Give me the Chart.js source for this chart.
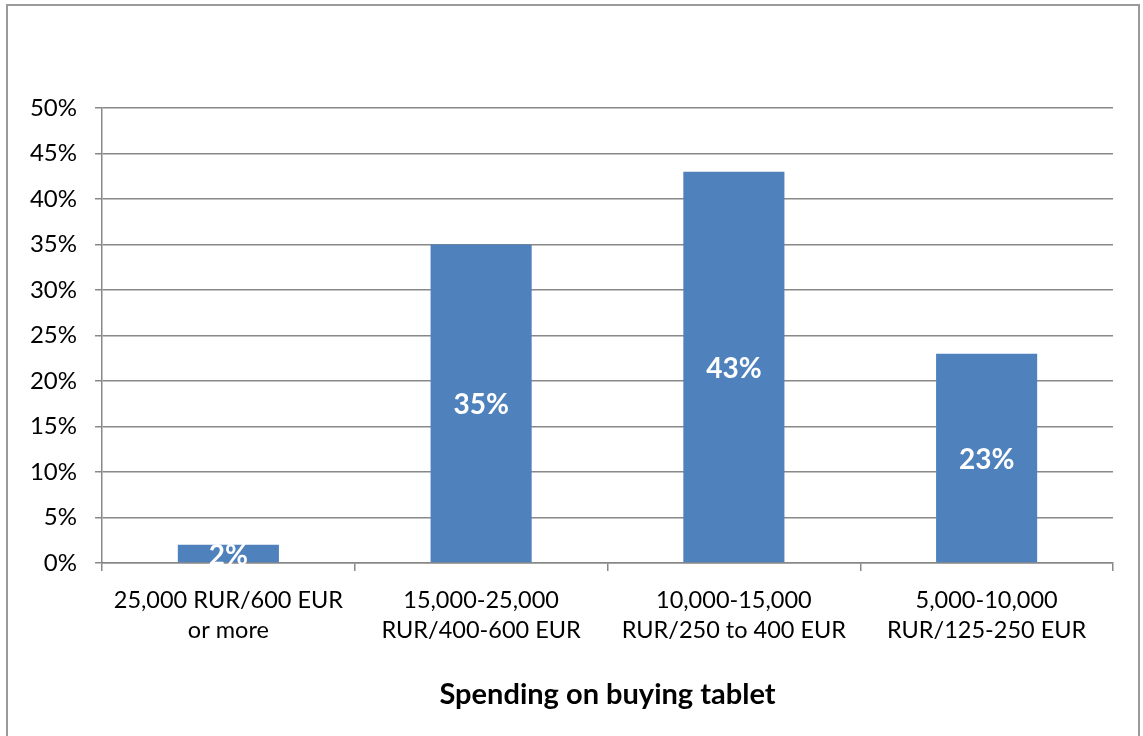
<!DOCTYPE html>
<html>
<head>
<meta charset="utf-8">
<script src="https://cdn.jsdelivr.net/npm/chart.js@4/dist/chart.umd.min.js"></script>
<style>
  html, body { margin: 0; padding: 0; background: #fff; }
  #wrap { position: relative; width: 1143px; height: 736px; overflow: hidden; }
  #frame { position: absolute; left: 6px; top: 4px; width: 1134px; height: 760px;
           border: 2px solid #9a9a9a; box-sizing: border-box; pointer-events: none; }
  canvas { position: absolute; left: 0; top: 0; }
</style>
</head>
<body>
<div id="wrap">
  <canvas id="spendChart" width="1143" height="736"></canvas>
  <div id="frame"></div>
</div>
<script>
// price brackets and share of respondents (%)
const categories = [
  ['25,000 RUR/600 EUR', 'or more'],
  ['15,000-25,000', 'RUR/400-600 EUR'],
  ['10,000-15,000', 'RUR/250 to 400 EUR'],
  ['5,000-10,000', 'RUR/125-250 EUR']
];
const shares = [2, 35, 43, 23];
const axisTitle = 'Spending on buying tablet';
const yMax = 50;
const yStep = 5;

const FONT = 'Lato, "Open Sans", sans-serif';

// white bold value in the middle of each bar
const barLabels = {
  id: 'barLabels',
  afterDatasetsDraw(chart) {
    const ctx = chart.ctx;
    const meta = chart.getDatasetMeta(0);
    ctx.save();
    ctx.fillStyle = '#ffffff';
    ctx.font = 'bold 28px ' + FONT;
    ctx.textAlign = 'center';
    ctx.textBaseline = 'middle';
    meta.data.forEach((bar, i) => {
      const mid = (bar.y + bar.base) / 2;
      ctx.fillText(shares[i] + '%', bar.x, mid + 2);
    });
    ctx.restore();
  }
};

new Chart(document.getElementById('spendChart'), {
  type: 'bar',
  data: {
    labels: categories,
    datasets: [{
      data: shares,
      backgroundColor: '#4f81bd',
      borderWidth: 0,
      categoryPercentage: 1,
      barPercentage: 0.4
    }]
  },
  options: {
    responsive: false,
    animation: false,
    layout: { padding: { top: 108, right: 30, left: 0, bottom: 0 } },
    plugins: { legend: { display: false }, tooltip: { enabled: false } },
    scales: {
      x: {
        offset: true,
        grid: { offset: true, drawOnChartArea: false, drawTicks: true, tickLength: 8, color: '#888', lineWidth: 1.5 },
        border: { color: '#888', width: 1.5 },
        ticks: { color: '#000', padding: 14, maxRotation: 0, autoSkip: false,
                 font: { family: FONT, size: 23.5, lineHeight: '30px' } },
        title: { display: true, text: axisTitle, color: '#000',
                 font: { family: FONT, size: 29, weight: 'bold' },
                 padding: { top: 0, bottom: 24 } },
        afterFit(scale) { scale.height = 173; }
      },
      y: {
        min: 0,
        max: yMax,
        grid: { color: '#888', lineWidth: 1.5, tickLength: 7 },
        border: { color: '#888', width: 1.5 },
        ticks: { stepSize: yStep, color: '#000', padding: 18,
                 font: { family: FONT, size: 24 },
                 callback: v => v + '%' },
        afterFit(scale) { scale.width = 102; }
      }
    }
  },
  plugins: [barLabels]
});
</script>
</body>
</html>
